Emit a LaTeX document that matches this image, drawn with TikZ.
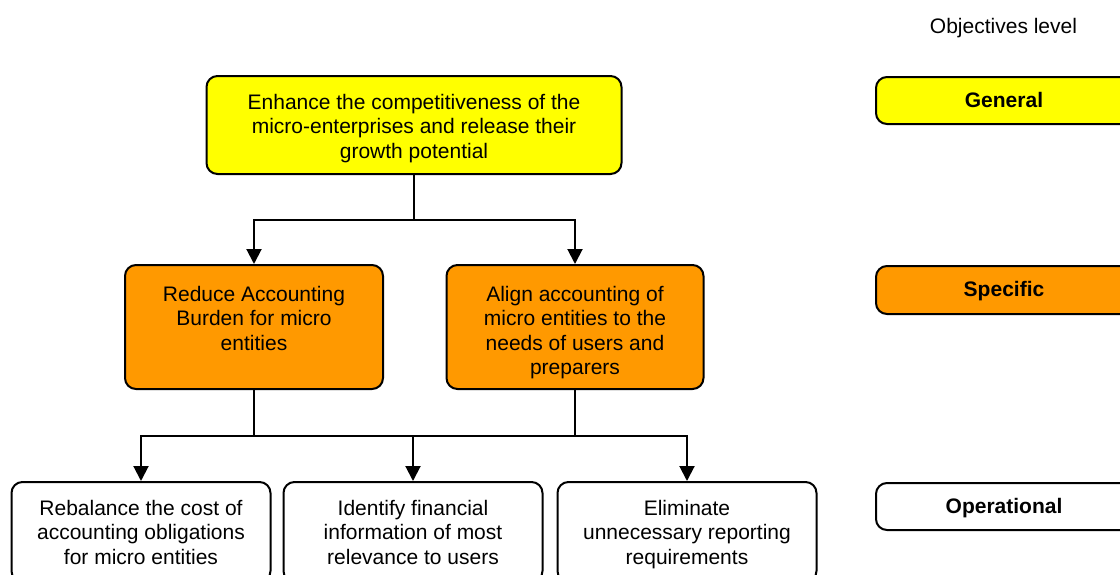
\documentclass[tikz,border=0pt]{standalone}
\usepackage{fontspec}
\setmainfont{Liberation Sans}
\usetikzlibrary{arrows.meta}
\definecolor{genyellow}{HTML}{FFFF00}
\definecolor{specorange}{HTML}{FF9900}
\begin{document}
\begin{tikzpicture}[x=1pt,y=-1pt,
  box/.style={draw=black, line width=2pt, rounded corners=11pt, inner sep=0pt},
  txt/.style={align=center, inner sep=0pt, font=\fontsize{21}{24.3}\selectfont},
  lvltxt/.style={inner sep=0pt, anchor=base, font=\fontsize{21}{24.3}\selectfont\bfseries},
  conn/.style={line width=2pt},
  arr/.style={conn, -{Triangle[length=15pt,width=15pt]}}]
\useasboundingbox (0,0) rectangle (1120,574);
\clip (0,0) rectangle (1120,574);
\fill[white] (0,0) rectangle (1120,574);

% general objective
\node[box, fill=genyellow, minimum width=415pt, minimum height=98pt] (gen) at (414,125) {};
\node[txt, anchor=north] (gent) at (414,94) {Enhance the competitiveness of the\\micro-enterprises and release their\\growth potential};

% specific objectives
\node[box, fill=specorange, minimum width=258pt, minimum height=124pt] (s1) at (254,327) {};
\node[txt, anchor=north] (s1t) at (254,286) {Reduce Accounting\\Burden for micro\\entities};
\node[box, fill=specorange, minimum width=257pt, minimum height=124pt] (s2) at (575,327) {};
\node[txt, anchor=north] (s2t) at (575,286) {Align accounting of\\micro entities to the\\needs of users and\\preparers};

% operational objectives
\node[box, fill=white, minimum width=259pt, minimum height=100pt] (o1) at (141,532) {};
\node[txt, anchor=north] (o1t) at (141,500) {Rebalance the cost of\\accounting obligations\\for micro entities};
\node[box, fill=white, minimum width=259pt, minimum height=100pt] (o2) at (413,532) {};
\node[txt, anchor=north] (o2t) at (413,500) {Identify financial\\information of most\\relevance to users};
\node[box, fill=white, minimum width=259pt, minimum height=100pt] (o3) at (687,532) {};
\node[txt, anchor=north] (o3t) at (687,500) {Eliminate\\unnecessary reporting\\requirements};

% connectors
\coordinate (j1) at (414,220);
\coordinate (j2) at (254,436);
\coordinate (j3) at (575,436);
\draw[conn] (gen.south) -- (j1);
\draw[arr] (j1) -| (s1.north);
\draw[arr] (j1) -| (s2.north);
\draw[conn] (s1.south) -- (j2);
\draw[conn] (s2.south) -- (j3);
\draw[conn] (j2) -- (j3);
\draw[arr] (j2) -| (o1.north);
\draw[arr] (j2) -| (o2.north);
\draw[arr] (j3) -| (o3.north);

% legend
\node[txt] (lvl) at (1003.5,28) {Objectives level};
\node[box, fill=genyellow, minimum width=256pt, minimum height=47pt] (lg) at (1004,100.5) {};
\node[lvltxt] (lgt) at (1004,107) {General};
\node[box, fill=specorange, minimum width=256pt, minimum height=48pt] (ls) at (1004,290) {};
\node[lvltxt] (lst) at (1004,296.5) {Specific};
\node[box, fill=white, minimum width=256pt, minimum height=47pt] (lo) at (1004,506.5) {};
\node[lvltxt] (lot) at (1004,513) {Operational};
\end{tikzpicture}
\end{document}
